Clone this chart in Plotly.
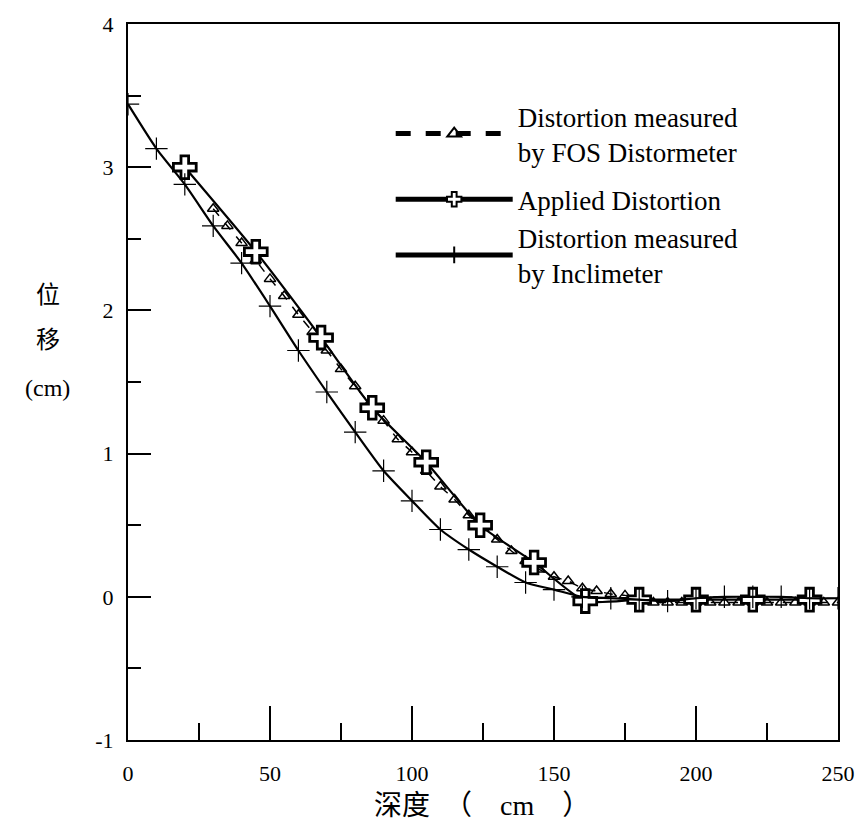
import plotly.graph_objects as go

# Depth positions (cm) and displacements (cm)
fos_depth = [30, 35, 40, 45, 50, 55, 60, 65, 70, 75, 80, 85, 90, 95, 100,
             105, 110, 115, 120, 125, 130, 135, 140, 145, 150, 155, 160, 165,
             170, 175, 180, 185, 190, 195, 200, 205, 210, 215, 220, 225, 230,
             235, 240, 245, 250]
fos_disp = [2.71, 2.59, 2.47, 2.35, 2.22, 2.10, 1.97, 1.85, 1.72, 1.59, 1.47,
            1.35, 1.23, 1.10, 1.01, 0.88, 0.77, 0.68, 0.57, 0.48, 0.40, 0.32,
            0.25, 0.19, 0.14, 0.11, 0.06, 0.04, 0.02, 0.01, -0.02, -0.04,
            -0.04, -0.04, -0.04, -0.04, -0.04, -0.04, -0.04, -0.04, -0.04,
            -0.04, -0.04, -0.04, -0.04]

applied_depth = [20, 45, 68, 86, 105, 124, 143, 161, 180, 200, 220, 240]
applied_disp = [3.00, 2.41, 1.81, 1.32, 0.94, 0.50, 0.24, -0.03, -0.02, -0.02,
                -0.02, -0.02]

incl_depth = [0, 10, 20, 30, 40, 50, 60, 70, 80, 90, 100, 110, 120, 130, 140,
              150, 160, 170, 180, 190, 200, 210, 220, 230, 240, 250]
incl_disp = [3.44, 3.13, 2.88, 2.59, 2.33, 2.03, 1.72, 1.43, 1.15, 0.88, 0.67,
             0.47, 0.33, 0.21, 0.10, 0.05, 0.00, -0.01, -0.02, -0.03, -0.01,
             0.00, 0.00, 0.00, -0.01, -0.01]

x_ticks = [0, 50, 100, 150, 200, 250]
y_ticks = [-1, 0, 1, 2, 3, 4]
y_tick_text = ["-1", "0", "1", "2", "3", "4"]

SERIF = "Liberation Serif, Times New Roman, Noto Sans CJK SC, serif"

fig = go.Figure()

fig.add_trace(go.Scatter(
    x=fos_depth, y=fos_disp, mode="lines+markers",
    name="Distortion measured<br>by FOS Distormeter", legendgroup="fos",
    line=dict(color="black", width=1.5, dash="dash", shape="spline",
              smoothing=0.6),
    marker=dict(symbol="triangle-up-open", size=10, color="black",
                line=dict(width=1.5)),
))
fig.add_trace(go.Scatter(
    x=applied_depth, y=applied_disp, mode="lines+markers",
    name="Applied Distortion", legendgroup="ref",
    line=dict(color="black", width=2.2, shape="spline", smoothing=0.6),
    marker=dict(symbol="cross", size=19, color="white",
                line=dict(width=2.8, color="black")),
))
fig.add_trace(go.Scatter(
    x=incl_depth, y=incl_disp, mode="lines+markers",
    name="Distortion measured<br>by Inclimeter", legendgroup="ref",
    line=dict(color="black", width=2.2, shape="spline", smoothing=0.6),
    marker=dict(symbol="cross-thin", size=16, color="black",
                line=dict(width=1.2, color="black")),
))

axis_common = dict(
    showgrid=False, zeroline=False, showline=True, linecolor="black",
    linewidth=2, mirror=True, ticks="inside", tickcolor="black",
    tickwidth=2, tickfont=dict(family=SERIF, size=22, color="black"),
)

fig.update_xaxes(
    range=[0, 250], tickvals=x_ticks, ticklen=34, ticklabelstandoff=13,
    minor=dict(dtick=25, ticks="inside", ticklen=17, tickwidth=2,
               tickcolor="black"),
    **axis_common,
)
fig.update_yaxes(
    range=[-1, 4], tickvals=y_ticks, ticktext=y_tick_text, ticklen=23,
    ticklabelstandoff=8,
    minor=dict(dtick=0.5, ticks="inside", ticklen=13, tickwidth=2,
               tickcolor="black"),
    **axis_common,
)

# Axis titles
fig.add_annotation(
    text="深度　（　cm　）", xref="paper", yref="paper", x=0.499, y=-0.092,
    xanchor="center", yanchor="middle", showarrow=False,
    font=dict(family=SERIF, size=28, color="black"),
)
for label, ypos in [("位", 0.622), ("移", 0.559), ("(cm)", 0.492)]:
    fig.add_annotation(
        text=label, xref="paper", yref="paper", x=-0.113, y=ypos,
        xanchor="center", yanchor="middle", showarrow=False,
        font=dict(family=SERIF, size=24, color="black"),
    )

fig.update_layout(
    width=867, height=836,
    margin=dict(l=128, r=24, t=16, b=96),
    paper_bgcolor="white", plot_bgcolor="white",
    showlegend=True,
    legend=dict(
        x=0.37, y=0.905, xanchor="left", yanchor="top",
        bgcolor="rgba(0,0,0,0)", borderwidth=0,
        font=dict(family=SERIF, size=27, color="black"),
        itemwidth=117, itemsizing="constant", tracegroupgap=10,
    ),
)

fig.write_html("out.html")
